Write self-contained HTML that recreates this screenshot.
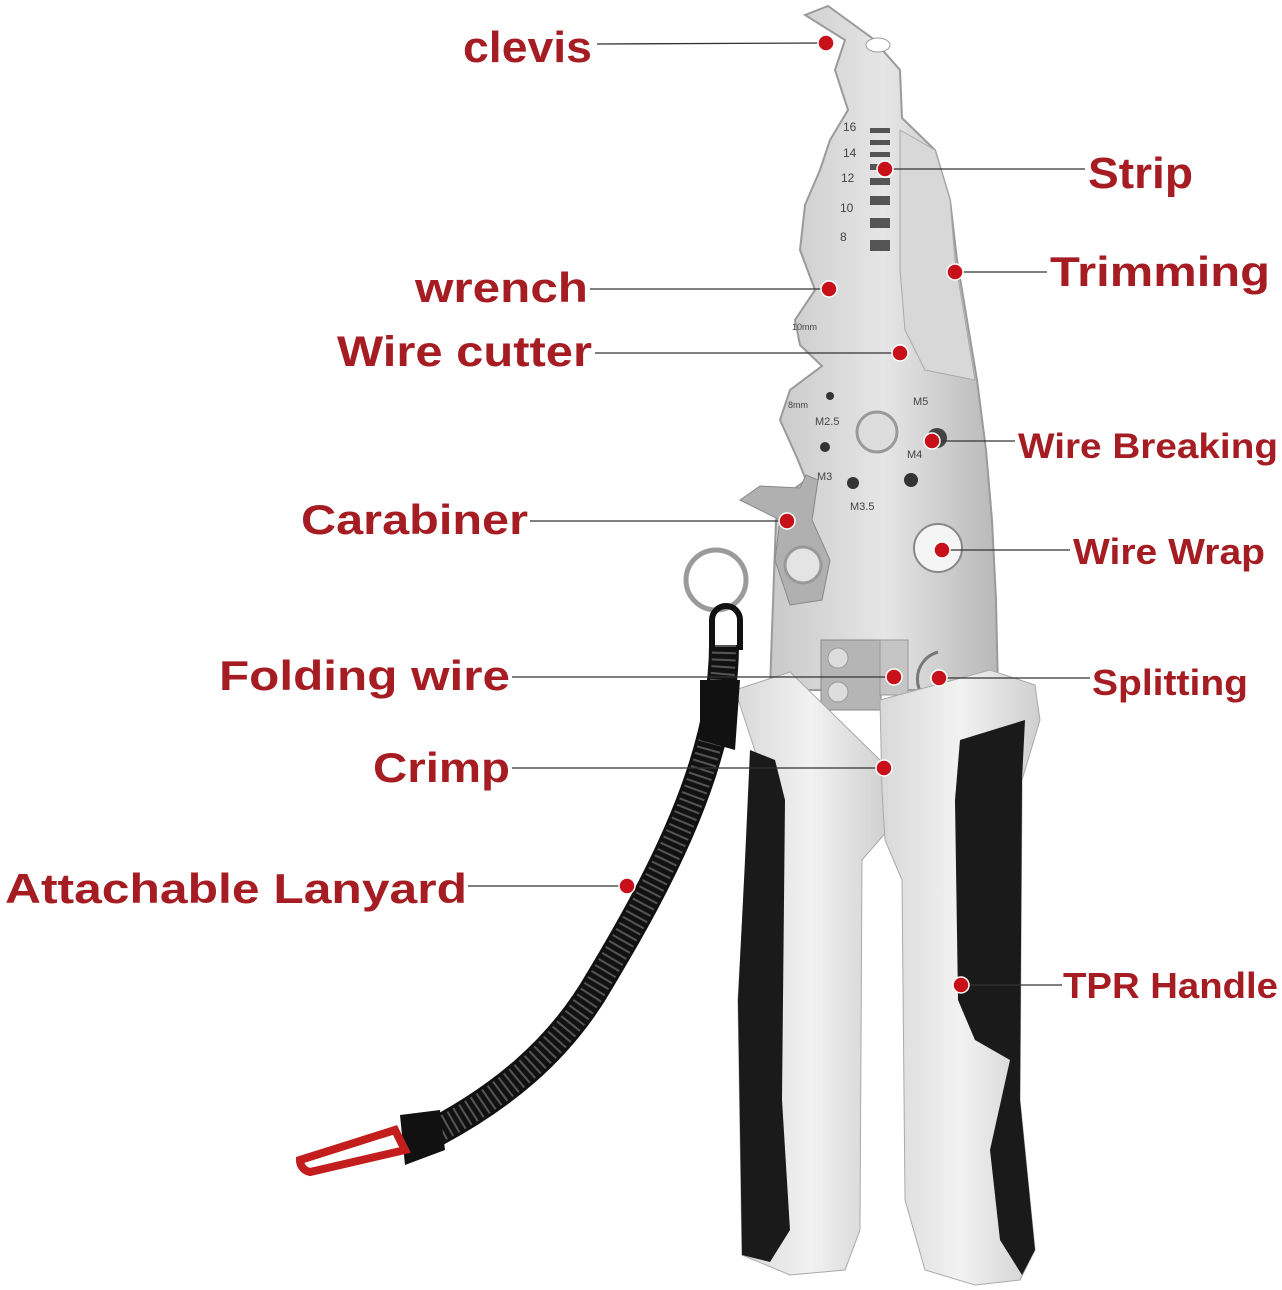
<!DOCTYPE html>
<html><head><meta charset="utf-8"><style>
html,body{margin:0;padding:0;background:#fff;}
svg{display:block}
text{font-family:"Liberation Sans",sans-serif;font-weight:bold;fill:#a51d22;}
</style></head><body>
<svg width="1282" height="1290" viewBox="0 0 1282 1290" xmlns="http://www.w3.org/2000/svg">
<defs>
<linearGradient id="metal" x1="0" x2="1" y1="0" y2="0">
<stop offset="0" stop-color="#c9c9c9"/><stop offset="0.5" stop-color="#e6e6e6"/><stop offset="1" stop-color="#b8b8b8"/>
</linearGradient>
<linearGradient id="hand" x1="0" x2="1">
<stop offset="0" stop-color="#d8d8d8"/><stop offset="0.5" stop-color="#f2f2f2"/><stop offset="1" stop-color="#cfcfcf"/>
</linearGradient>
</defs>
<!-- jaw -->
<path d="M805,15 L828,6 L872,38 L900,70 L902,118 L935,150 L950,200 L957,260 L967,320 L977,380 L986,450 L992,520 L996,600 L998,690 L770,690 L772,630 L776,520 L790,492 L806,480 L798,460 L780,420 L790,390 L822,366 L800,345 L795,320 L815,290 L800,250 L805,205 L820,170 L830,140 L848,110 L835,70 L845,40 Z" fill="url(#metal)" stroke="#9a9a9a" stroke-width="2"/>
<ellipse cx="878" cy="45" rx="12" ry="7" fill="#fff" stroke="#999"/>
<path d="M900,130 L935,150 L950,200 L955,260 L965,320 L975,380 L925,370 L905,330 L900,270 Z" fill="#d8d8d8" stroke="#aaa"/>
<g fill="#555">
<rect x="870" y="128" width="20" height="5"/><rect x="870" y="140" width="20" height="5"/><rect x="870" y="152" width="20" height="5"/><rect x="870" y="164" width="20" height="6"/><rect x="870" y="178" width="20" height="7"/><rect x="870" y="196" width="20" height="9"/><rect x="870" y="218" width="20" height="10"/><rect x="870" y="240" width="20" height="11"/>
</g>
<g>
<text x="843" y="131" style="fill:#444;font-weight:normal;font-size:12px">16</text><text x="843" y="157" style="fill:#444;font-weight:normal;font-size:12px">14</text><text x="841" y="182" style="fill:#444;font-weight:normal;font-size:12px">12</text><text x="840" y="212" style="fill:#444;font-weight:normal;font-size:12px">10</text><text x="840" y="241" style="fill:#444;font-weight:normal;font-size:12px">8</text>
<text x="792" y="330" style="fill:#444;font-weight:normal;font-size:9px">10mm</text>
<text x="788" y="408" style="fill:#444;font-weight:normal;font-size:9px">8mm</text>
<text x="815" y="425" style="fill:#444;font-weight:normal;font-size:11px">M2.5</text>
<text x="913" y="405" style="fill:#444;font-weight:normal;font-size:11px">M5</text>
<text x="907" y="458" style="fill:#444;font-weight:normal;font-size:11px">M4</text>
<text x="817" y="480" style="fill:#444;font-weight:normal;font-size:11px">M3</text>
<text x="850" y="510" style="fill:#444;font-weight:normal;font-size:11px">M3.5</text>
</g>
<circle cx="830" cy="396" r="4" fill="#333"/><circle cx="825" cy="447" r="5" fill="#333"/><circle cx="853" cy="483" r="6" fill="#333"/><circle cx="911" cy="480" r="7" fill="#333"/>
<circle cx="877" cy="432" r="20" fill="#ddd" stroke="#999" stroke-width="3"/>
<circle cx="937" cy="438" r="10" fill="#444"/>
<circle cx="938" cy="548" r="24" fill="#f5f5f5" stroke="#888" stroke-width="2"/>
<rect x="821" y="640" width="60" height="70" fill="#b5b5b5" stroke="#888"/>
<circle cx="838" cy="658" r="10" fill="#ddd" stroke="#999"/><circle cx="838" cy="692" r="10" fill="#ddd" stroke="#999"/>
<rect x="880" y="640" width="28" height="55" fill="#c5c5c5" stroke="#999"/>
<path d="M938,652 A28,28 0 0 0 938,706" fill="none" stroke="#777" stroke-width="3"/>
<!-- carabiner -->
<path d="M740,500 L760,486 L800,488 L806,475 L818,480 L812,520 L830,560 L822,600 L790,605 L775,560 L780,520 Z" fill="#b0b0b0" stroke="#888"/>
<circle cx="803" cy="565" r="18" fill="#e4e4e4" stroke="#999" stroke-width="3"/>
<circle cx="716" cy="580" r="30" fill="none" stroke="#9a9a9a" stroke-width="5"/>
<!-- handles -->
<path d="M735,690 L790,672 L880,760 L888,830 L862,860 L860,1230 L845,1270 L790,1275 L742,1255 L738,1000 L746,860 L758,760 Z" fill="url(#hand)" stroke="#aaa"/>
<path d="M750,750 L775,760 L785,800 L782,1100 L790,1230 L770,1262 L742,1255 L738,1000 L745,860 Z" fill="#1a1a1a"/>
<path d="M880,700 L990,670 L1035,685 L1040,720 L1022,780 L1020,1100 L1035,1250 L1020,1280 L975,1285 L925,1270 L905,1200 L902,880 L885,840 L882,790 Z" fill="url(#hand)" stroke="#aaa"/>
<path d="M960,740 L1025,720 L1022,780 L1020,1100 L1035,1250 L1022,1275 L1000,1240 L990,1150 L1010,1060 L975,1040 L958,1000 L955,800 Z" fill="#1a1a1a"/>
<!-- lanyard -->
<path d="M724,645 C724,760 660,880 600,980 C560,1050 500,1100 420,1140" fill="none" stroke="#111" stroke-width="30"/>
<path d="M724,645 C724,760 660,880 600,980 C560,1050 500,1100 420,1140" fill="none" stroke="#555" stroke-width="24" stroke-dasharray="2 5"/>
<path d="M712,650 L712,620 A14,14 0 0 1 740,620 L740,650" fill="none" stroke="#111" stroke-width="6"/>
<path d="M700,680 L740,680 L735,750 L700,740 Z" fill="#111"/>
<path d="M400,1115 L440,1110 L445,1150 L405,1165 Z" fill="#111"/>
<path d="M395,1130 L300,1160 A12,12 0 0 0 310,1172 L405,1150 Z" fill="none" stroke="#c41d1d" stroke-width="8"/>
<!-- leader lines -->
<g stroke="#333" stroke-width="1.3">
<line x1="597" y1="44" x2="826" y2="43"/>
<line x1="885" y1="169" x2="1085" y2="169"/>
<line x1="955" y1="272" x2="1047" y2="272"/>
<line x1="590" y1="289" x2="829" y2="289"/>
<line x1="595" y1="353" x2="900" y2="353"/>
<line x1="932" y1="441" x2="1015" y2="441"/>
<line x1="530" y1="521" x2="787" y2="521"/>
<line x1="942" y1="550" x2="1070" y2="550"/>
<line x1="512" y1="677" x2="894" y2="677"/>
<line x1="939" y1="678" x2="1090" y2="678"/>
<line x1="512" y1="768" x2="884" y2="768"/>
<line x1="468" y1="886" x2="627" y2="886"/>
<line x1="961" y1="985" x2="1062" y2="985"/>
</g>
<g fill="#c8101a" stroke="#fff" stroke-width="1.5">
<circle cx="826" cy="43" r="8"/><circle cx="885" cy="169" r="8"/><circle cx="955" cy="272" r="8"/><circle cx="829" cy="289" r="8"/><circle cx="900" cy="353" r="8"/><circle cx="932" cy="441" r="8"/><circle cx="787" cy="521" r="8"/><circle cx="942" cy="550" r="8"/><circle cx="894" cy="677" r="8"/><circle cx="939" cy="678" r="8"/><circle cx="884" cy="768" r="8"/><circle cx="627" cy="886" r="8"/><circle cx="961" cy="985" r="8"/>
</g>
<!-- labels -->
<text x="463" y="62" font-size="44" textLength="129" lengthAdjust="spacingAndGlyphs">clevis</text>
<text x="1088" y="188" font-size="44" textLength="105" lengthAdjust="spacingAndGlyphs">Strip</text>
<text x="1050" y="286" font-size="42" textLength="220" lengthAdjust="spacingAndGlyphs">Trimming</text>
<text x="415" y="302" font-size="42" textLength="173" lengthAdjust="spacingAndGlyphs">wrench</text>
<text x="337" y="366" font-size="43" textLength="255" lengthAdjust="spacingAndGlyphs">Wire cutter</text>
<text x="1018" y="458" font-size="35" textLength="260" lengthAdjust="spacingAndGlyphs">Wire Breaking</text>
<text x="301" y="534" font-size="42" textLength="227" lengthAdjust="spacingAndGlyphs">Carabiner</text>
<text x="1073" y="564" font-size="36" textLength="192" lengthAdjust="spacingAndGlyphs">Wire Wrap</text>
<text x="219" y="690" font-size="42" textLength="291" lengthAdjust="spacingAndGlyphs">Folding wire</text>
<text x="1092" y="695" font-size="36" textLength="156" lengthAdjust="spacingAndGlyphs">Splitting</text>
<text x="373" y="782" font-size="42" textLength="137" lengthAdjust="spacingAndGlyphs">Crimp</text>
<text x="5" y="903" font-size="42" textLength="462" lengthAdjust="spacingAndGlyphs">Attachable Lanyard</text>
<text x="1063" y="998" font-size="36" textLength="215" lengthAdjust="spacingAndGlyphs">TPR Handle</text>
</svg>
</body></html>
